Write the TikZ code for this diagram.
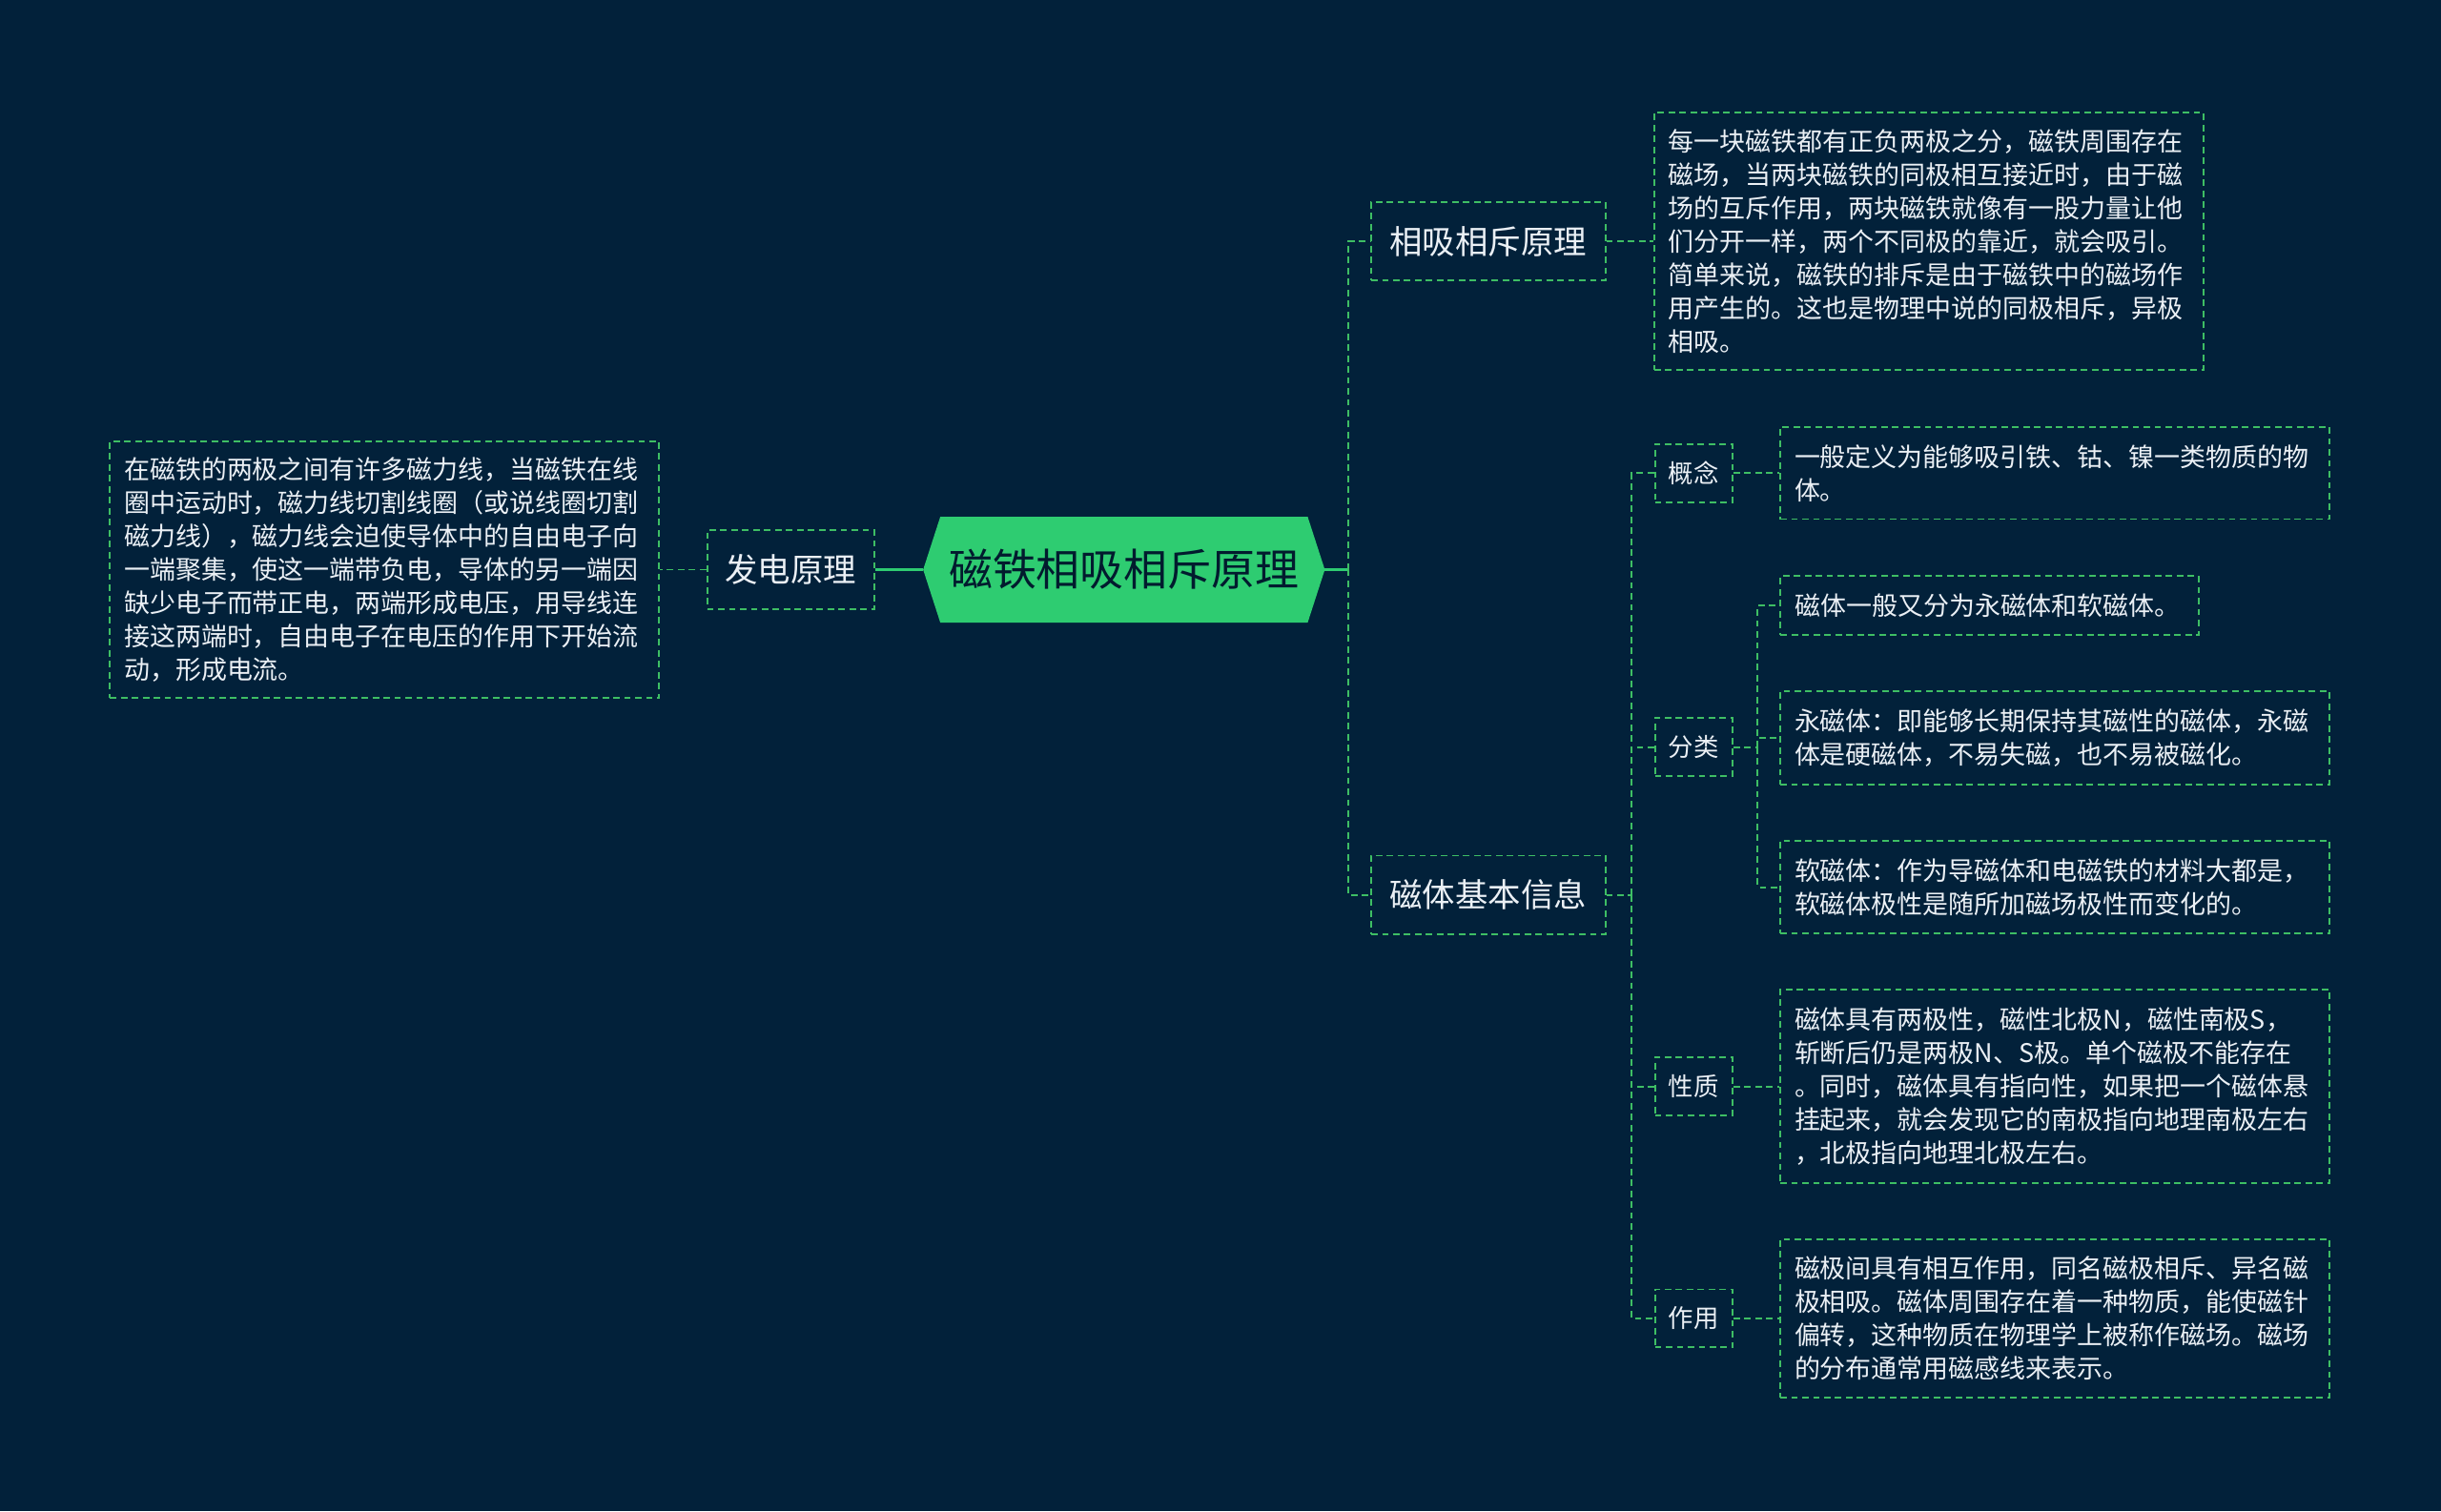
\documentclass[tikz,border=0pt]{standalone}
\usepackage{fontspec}
\setmainfont{Noto Sans CJK SC}
\usetikzlibrary{shapes.geometric}
\definecolor{bg}{RGB}{2,33,58}
\definecolor{lg}{RGB}{62,190,100}
\definecolor{cg}{RGB}{46,204,113}
\definecolor{tx}{RGB}{235,240,245}
\tikzset{
 leaf/.style={draw=lg,dashed,line width=1.6pt,dash pattern=on 6pt off 4pt,text=tx,inner xsep=13pt,inner ysep=6pt,
   text width=476pt,align=left,font=\fontsize{23.5}{30.5}\selectfont,anchor=center},
 head/.style={draw=lg,line width=1.6pt,dash pattern=on 6pt off 4pt,text=tx,font=\fontsize{30}{36}\selectfont,minimum width=214pt,minimum height=72pt},
 small/.style={draw=lg,line width=1.6pt,dash pattern=on 6pt off 4pt,text=tx,font=\fontsize{23}{28}\selectfont,minimum width=71pt,minimum height=53pt},
 conn/.style={draw=lg,line width=1.6pt,dash pattern=on 6pt off 4pt},
 solidc/.style={draw=cg,line width=3pt}
}
\begin{document}
\begin{tikzpicture}[x=0.05cm,y=-0.05cm]
\fill[bg] (0,0) rectangle (1568,971);
\useasboundingbox (0,0) rectangle (1568,971);
\node[fill=cg,regular polygon,regular polygon sides=6,shape aspect=1,minimum size=10pt,draw=none,opacity=0] at (0,0){};
\fill[cg] (593,366) -- (604,332) -- (840,332) -- (851,366) -- (840,400) -- (604,400) -- cycle;
\node (c) at (722,366) [font=\fontsize{40}{48}\selectfont,text=bg!80!black,minimum width=365pt,minimum height=96pt] {磁铁相吸相斥原理};
\node[head,minimum width=153pt] (f) at (508,366) {发电原理};
\node[leaf,minimum height=235pt] (ft) at (247,366) {在磁铁的两极之间有许多磁力线，当磁铁在线\\圈中运动时，磁力线切割线圈（或说线圈切割\\磁力线），磁力线会迫使导体中的自由电子向\\一端聚集，使这一端带负电，导体的另一端因\\缺少电子而带正电，两端形成电压，用导线连\\接这两端时，自由电子在电压的作用下开始流\\动，形成电流。};
\node[head] (a) at (956,155) {相吸相斥原理};
\node[leaf,minimum height=235pt] (at) at (1239,155) {每一块磁铁都有正负两极之分，磁铁周围存在\\磁场，当两块磁铁的同极相互接近时，由于磁\\场的互斥作用，两块磁铁就像有一股力量让他\\们分开一样，两个不同极的靠近，就会吸引。\\简单来说，磁铁的排斥是由于磁铁中的磁场作\\用产生的。这也是物理中说的同极相斥，异极\\相吸。};
\node[head] (b) at (956,575) {磁体基本信息};
\node[small] (k1) at (1088,304) {概念};
\node[small] (k2) at (1088,480) {分类};
\node[small] (k3) at (1088,698) {性质};
\node[small] (k4) at (1088,847) {作用};
\node[leaf,minimum height=84pt] (t1) at (1320,304) {一般定义为能够吸引铁、钴、镍一类物质的物\\体。};
\node[leaf,text width=356pt,minimum height=54pt] (t2a) at (1278,389) {磁体一般又分为永磁体和软磁体。};
\node[leaf,minimum height=85pt] (t2b) at (1320,474) {永磁体：即能够长期保持其磁性的磁体，永磁\\体是硬磁体，不易失磁，也不易被磁化。};
\node[leaf,minimum height=85pt] (t2c) at (1320,570) {软磁体：作为导磁体和电磁铁的材料大都是，\\软磁体极性是随所加磁场极性而变化的。};
\node[leaf,minimum height=177pt] (t3) at (1320,698) {磁体具有两极性，磁性北极N，磁性南极S，\\斩断后仍是两极N、S极。单个磁极不能存在\\。同时，磁体具有指向性，如果把一个磁体悬\\挂起来，就会发现它的南极指向地理南极左右\\，北极指向地理北极左右。};
\node[leaf,minimum height=145pt] (t4) at (1320,847) {磁极间具有相互作用，同名磁极相斥、异名磁\\极相吸。磁体周围存在着一种物质，能使磁针\\偏转，这种物质在物理学上被称作磁场。磁场\\的分布通常用磁感线来表示。};
% connectors
\draw[solidc] (593,366) -- (f.east);
\draw[conn] (f.west) -- (ft.east);
\draw[solidc] (851,366) -- (866,366);
\draw[conn] (866,366) |- (a.west);
\draw[conn] (866,366) |- (b.west);
\draw[conn] (a.east) -- (at.west);
\draw[conn] (b.east) -- (1048,575);
\foreach \k in {k1,k2,k3,k4} \draw[conn] (1048,575) |- (\k.west);
\draw[conn] (k1.east) -- (t1.west);
\draw[conn] (k3.east) -- (t3.west);
\draw[conn] (k4.east) -- (t4.west);
\draw[conn] (k2.east) -- (1129,480);
\foreach \t in {t2a,t2b,t2c} \draw[conn] (1129,480) |- (\t.west);
\end{tikzpicture}
\end{document}
